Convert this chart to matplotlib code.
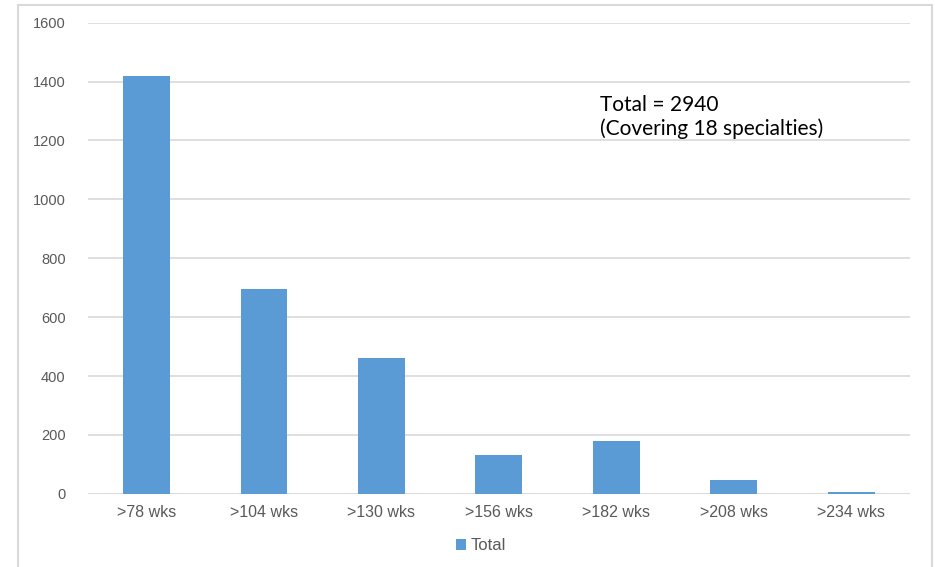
import matplotlib.pyplot as plt
import matplotlib.patches as patches

categories = ['>78 wks', '>104 wks', '>130 wks', '>156 wks', '>182 wks', '>208 wks', '>234 wks']
totals = [1420, 695, 460, 133, 180, 47, 5]
yticks = [0, 200, 400, 600, 800, 1000, 1200, 1400, 1600]
note = 'Total = 2940\n(Covering 18 specialties)'

fig = plt.figure(figsize=(9.35, 5.67), dpi=100)
ax = fig.add_axes([0.094, 0.129, 0.879, 0.831])

# outer chart border
fig.patches.append(patches.Rectangle((18 / 935, -0.01), 914 / 935, 1 - 5 / 567 + 0.01,
                                     transform=fig.transFigure, fill=False,
                                     edgecolor='#d9d9d9', linewidth=1.5))

x = range(len(categories))
ax.bar(x, totals, width=0.4, color='#5b9bd5', label='Total', zorder=3)

ax.set_xlim(-0.5, len(categories) - 0.5)
ax.set_ylim(0, 1600)
ax.set_yticks(yticks)
ax.set_xticks(list(x))
ax.set_xticklabels(categories)
ax.yaxis.grid(True, color='#d9d9d9', linewidth=1.2, zorder=0)
for s in ax.spines.values():
    s.set_visible(False)
ax.axhline(0, color='#d9d9d9', linewidth=1.2, zorder=2)
ax.tick_params(length=0, colors='#595959')
ax.tick_params(axis='y', pad=16, labelsize=10.5)
ax.tick_params(axis='x', pad=8, labelsize=11.5)
for lab in ax.get_xticklabels() + ax.get_yticklabels():
    lab.set_family(['Liberation Sans', 'DejaVu Sans'])

ax.text(600 / 935, 1 - 117 / 567, note, transform=fig.transFigure,
        fontsize=15, family=['Lato', 'DejaVu Sans'], color='black',
        va='center', ha='left', linespacing=1.15)

leg = ax.legend(loc='center', bbox_to_anchor=(481 / 935, 1 - 546 / 567),
                bbox_transform=fig.transFigure, frameon=False, fontsize=12,
                handlelength=0.6, handleheight=0.6, handletextpad=0.3)
for t in leg.get_texts():
    t.set_color('#595959')
    t.set_family(['Liberation Sans', 'DejaVu Sans'])

fig.savefig('out.png', dpi=100)
